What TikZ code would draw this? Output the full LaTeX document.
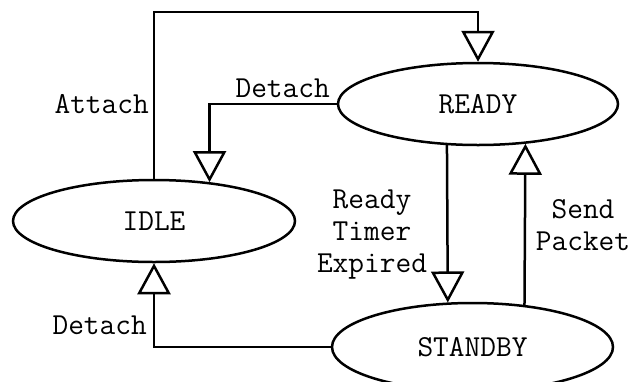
\documentclass[tikz,border=0pt]{standalone}
\usepackage{fontspec}
\usetikzlibrary{shapes.geometric,arrows.meta}
\begin{document}
\begin{tikzpicture}[x=1pt,y=-1pt,
  state/.style={ellipse,draw,line width=2.5pt,inner sep=0pt,font=\ttfamily\fontsize{30.5}{32}\selectfont},
  lbl/.style={font=\ttfamily\fontsize{30.5}{32}\selectfont,inner sep=0pt,align=center},
  arr/.style={line width=2.5pt,-{Triangle[open,length=31pt,width=33pt,line width=2.5pt]}}]
\useasboundingbox (0,0) rectangle (632,381);
\node[state,minimum width=280pt,minimum height=82pt] (ready) at (478,104) {READY};
\node[state,minimum width=282pt,minimum height=82pt] (idle) at (154,221) {IDLE};
\node[state,minimum width=281pt,minimum height=88pt] (standby) at (472.5,347) {STANDBY};
\draw[arr] (idle.north) -- ++(0,-167) -| (ready.north);
\draw[arr] (ready.west) -| (idle.35.6);
\draw[arr] (ready.233.2) -- (standby.119.5);
\draw[arr] (standby.39.1) -- (ready.-40.8);
\draw[arr] (standby.west) -| (idle.south);
\node[lbl,anchor=base east] (l1) at (149,113) {Attach};
\node[lbl,anchor=base east] (l2) at (330,97) {Detach};
\node[lbl,anchor=base east] (l3) at (147,334) {Detach};
\node[lbl,anchor=base] (l4) at (372,272) {Ready\\Timer\\Expired};
\node[lbl,anchor=base] (l5) at (583,250) {Send\\Packet};
\end{tikzpicture}
\end{document}
